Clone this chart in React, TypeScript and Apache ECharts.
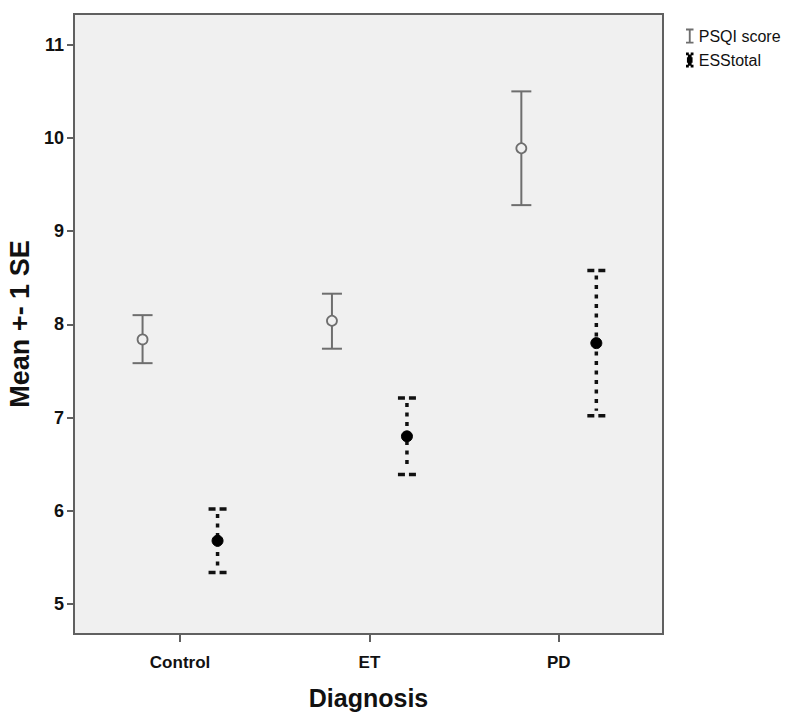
import React, { useEffect, useRef } from "react";
import * as echarts from "echarts";

const categories = ["Control", "ET", "PD"];
const psqiMean = [7.84, 8.04, 9.89];
const psqiLow = [7.585, 7.74, 9.28];
const psqiHigh = [8.1, 8.33, 10.5];
const essMean = [5.68, 6.8, 7.8];
const essLow = [5.34, 6.39, 7.02];
const essHigh = [6.02, 7.21, 8.58];
const yTicks = [5, 6, 7, 8, 9, 10, 11];
const xTicks = [1, 2, 3];

const FONT = "'Liberation Sans', Arial, sans-serif";
const OFFSET = 0.198;

function makeData(mean: number[], lo: number[], hi: number[], off: number) {
  return mean.map((m, i) => [i + 1 + off, lo[i], hi[i], m]);
}

function makeRender(kind: "psqi" | "ess") {
  return (params: any, api: any) => {
    const x = api.value(0);
    const pHi = api.coord([x, api.value(2)]);
    const pLo = api.coord([x, api.value(1)]);
    const pM = api.coord([x, api.value(3)]);
    if (kind === "psqi") {
      const stroke = "#6e6e6e";
      const hw = 10;
      return {
        type: "group",
        children: [
          { type: "line", shape: { x1: pHi[0], y1: pHi[1], x2: pLo[0], y2: pLo[1] }, style: { stroke, lineWidth: 2 } },
          { type: "line", shape: { x1: pHi[0] - hw, y1: pHi[1], x2: pHi[0] + hw, y2: pHi[1] }, style: { stroke, lineWidth: 2 } },
          { type: "line", shape: { x1: pLo[0] - hw, y1: pLo[1], x2: pLo[0] + hw, y2: pLo[1] }, style: { stroke, lineWidth: 2 } },
          { type: "circle", shape: { cx: pM[0], cy: pM[1], r: 5 }, style: { fill: "#f0f0f0", stroke, lineWidth: 1.8 } },
        ],
      };
    }
    const stroke = "#111";
    const hw = 9;
    return {
      type: "group",
      children: [
        { type: "line", shape: { x1: pHi[0], y1: pHi[1] + 5, x2: pLo[0], y2: pLo[1] - 5 }, style: { stroke, lineWidth: 3.5, lineDash: [4, 5.5] } },
        { type: "line", shape: { x1: pHi[0] - hw, y1: pHi[1], x2: pHi[0] + hw, y2: pHi[1] }, style: { stroke, lineWidth: 3.5, lineDash: [7, 4] } },
        { type: "line", shape: { x1: pLo[0] - hw, y1: pLo[1], x2: pLo[0] + hw, y2: pLo[1] }, style: { stroke, lineWidth: 3.5, lineDash: [7, 4] } },
        { type: "circle", shape: { cx: pM[0], cy: pM[1], r: 5.5 }, style: { fill: "#000", stroke: "#000", lineWidth: 1 } },
      ],
    };
  };
}

export default function App() {
  const ref = useRef<HTMLDivElement>(null);
  useEffect(() => {
    if (!ref.current) return;
    const chart = echarts.init(ref.current, null, { renderer: "svg" });
    chart.setOption({
      animation: false,
      backgroundColor: "#ffffff",
      textStyle: { fontFamily: FONT },
      grid: {
        left: 74,
        right: 137,
        top: 14,
        bottom: 88,
        outerBoundsMode: "none",
        containLabel: false,
        show: true,
        backgroundColor: "#f0f0f0",
        borderColor: "#606060",
        borderWidth: 2,
      },
      legend: {
        orient: "vertical",
        left: 681,
        top: 23,
        itemWidth: 8,
        itemHeight: 15,
        itemGap: 8,
        textStyle: { fontFamily: FONT, fontSize: 16, color: "#111" },
        data: [
          { name: "PSQI score", icon: "path://M0,0H8V2H5V14H8V16H0V14H3V2H0Z" },
          { name: "ESStotal", icon: "path://M0,0H3V2H5V0H8V3H6V5H7V11H6V13H8V16H5V14H3V16H0V13H2V11H1V5H2V3H0Z" },
        ],
      },
      xAxis: {
        type: "value",
        min: 0.44,
        max: 3.55,
        splitLine: { show: false },
        axisLine: { show: false },
        axisTick: { show: true, customValues: xTicks, length: 8, lineStyle: { color: "#606060", width: 2 } },
        axisLabel: {
          customValues: xTicks,
          margin: 20,
          fontSize: 17,
          fontWeight: "bold",
          color: "#111",
          fontFamily: FONT,
          formatter: (v: number) => categories[Math.round(v) - 1] ?? "",
        },
        name: "Diagnosis",
        nameLocation: "middle",
        nameGap: 51,
        nameTextStyle: { fontSize: 25, fontWeight: "bold", color: "#111", fontFamily: FONT },
      },
      yAxis: {
        type: "value",
        min: 4.68,
        max: 11.33,
        splitLine: { show: false },
        axisLine: { show: false },
        axisTick: { show: true, customValues: yTicks, length: 7, lineStyle: { color: "#606060", width: 2 } },
        axisLabel: {
          customValues: yTicks,
          margin: 10,
          fontSize: 18,
          fontWeight: "bold",
          color: "#111",
          fontFamily: FONT,
        },
        name: "Mean +- 1 SE",
        nameLocation: "middle",
        nameGap: 30,
        nameTextStyle: { fontSize: 27, fontWeight: "bold", color: "#111", fontFamily: FONT },
      },
      series: [
        {
          name: "PSQI score",
          type: "custom",
          itemStyle: { color: "#6e6e6e" },
          renderItem: makeRender("psqi"),
          encode: { x: 0, y: [1, 2, 3] },
          data: makeData(psqiMean, psqiLow, psqiHigh, -OFFSET),
        },
        {
          name: "ESStotal",
          type: "custom",
          itemStyle: { color: "#000" },
          renderItem: makeRender("ess"),
          encode: { x: 0, y: [1, 2, 3] },
          data: makeData(essMean, essLow, essHigh, OFFSET),
        },
      ],
    });
    return () => chart.dispose();
  }, []);
  return <div ref={ref} style={{ width: 800, height: 722, position: "absolute", left: 0, top: 0 }} />;
}
